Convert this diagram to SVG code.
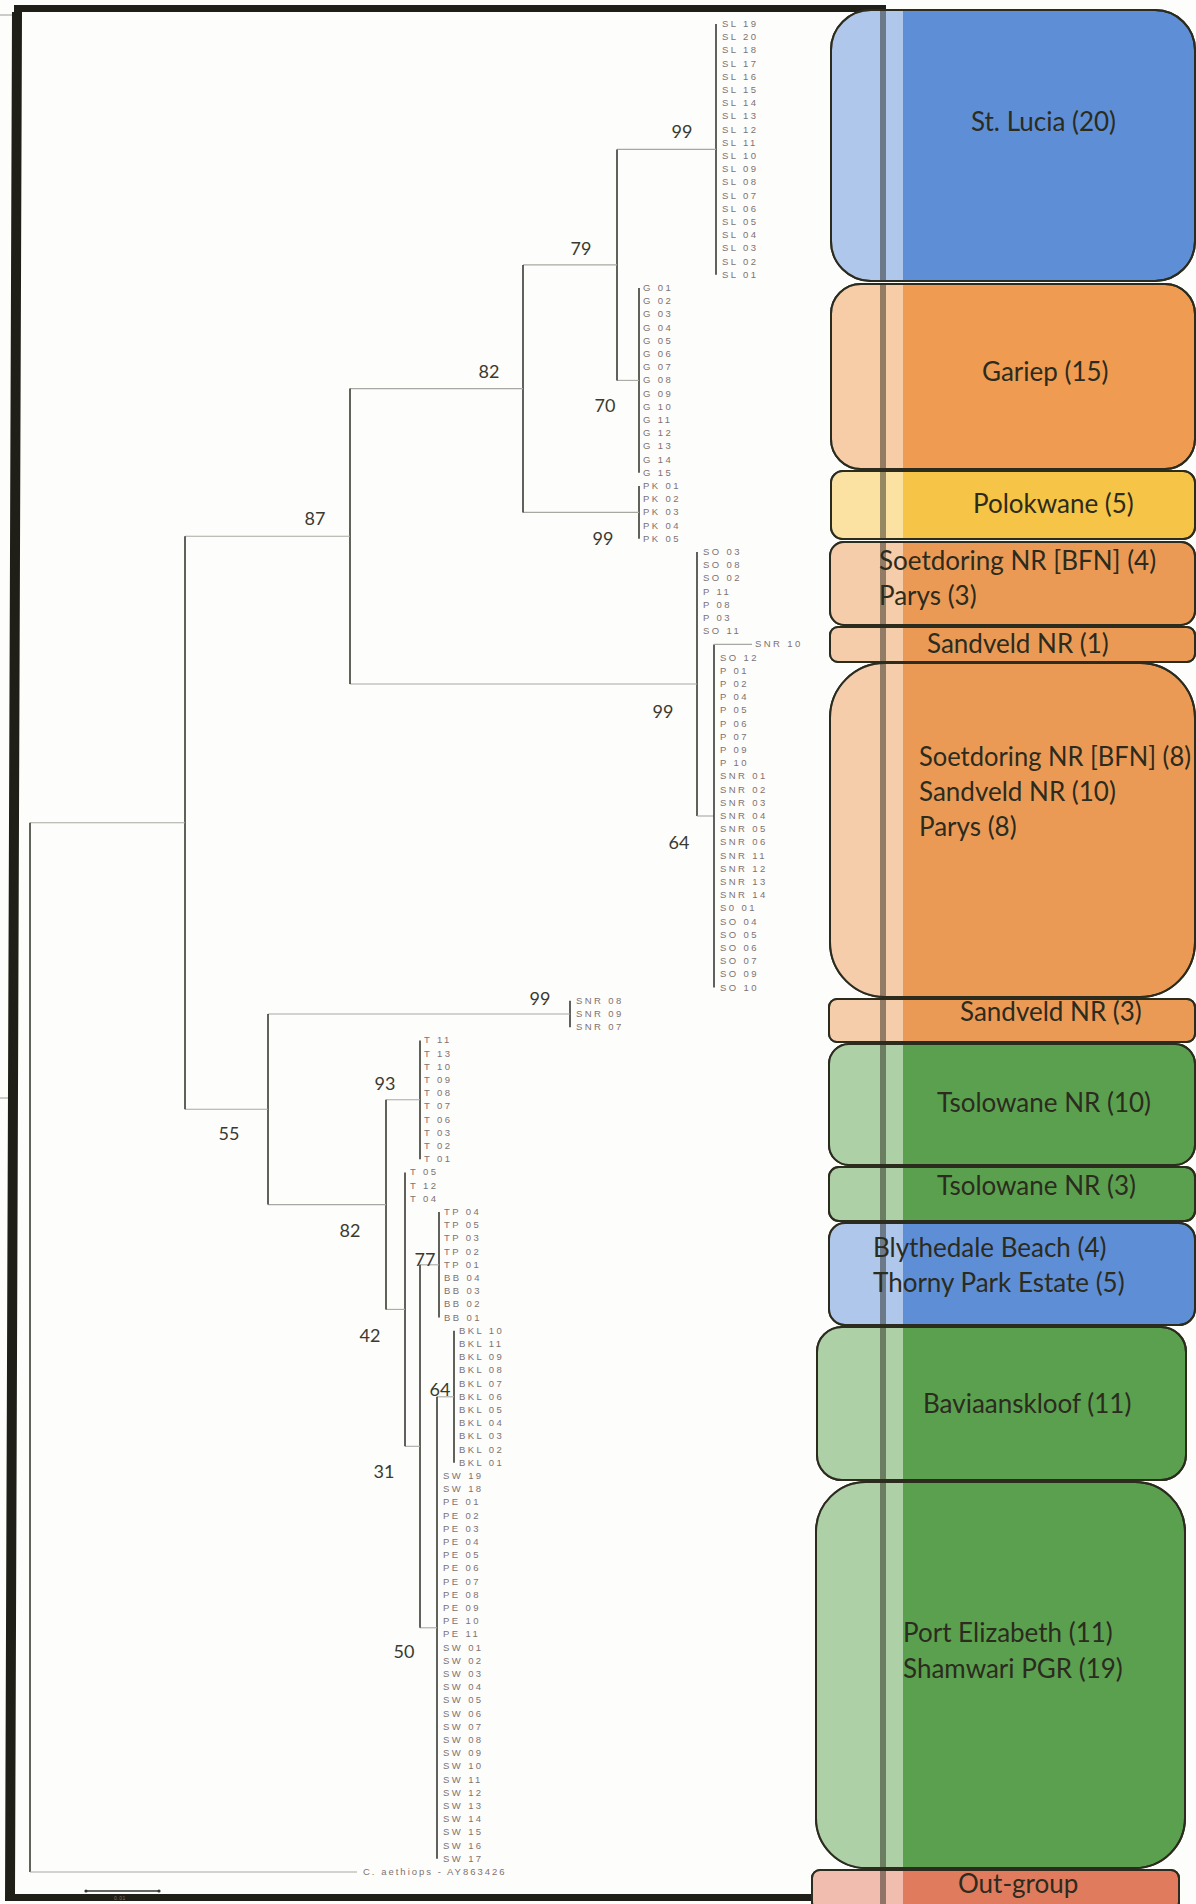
<svg xmlns="http://www.w3.org/2000/svg" width="1196" height="1904" viewBox="0 0 1196 1904">
<style>
.v{stroke:#3a3a34;stroke-width:1.6;fill:none}
.h{stroke:#a8a8a2;stroke-width:1.1;fill:none}
.lf{font-family:"Liberation Sans",Arial,sans-serif;font-size:9.5px;letter-spacing:2.4px;fill:#7d7272;white-space:pre}
.bs{font-family:Lato,"Open Sans",sans-serif;font-size:18px;fill:#3a3a30;text-anchor:middle}
.bx{stroke:#2b2b1e;stroke-width:2}
.bt{font-family:Lato,"Open Sans",sans-serif;font-size:26px;fill:#2b2b1e}
.blue{fill:#5e8fd6}.org{fill:#eb9a56}.yel{fill:#f6c446}.grn{fill:#5aa04f}.red{fill:#e07b5e}
</style>
<defs>
<clipPath id="boxclip">
<rect x="831" y="10" width="364" height="271" rx="40"/>
<rect x="831" y="284" width="364" height="185" rx="30"/>
<rect x="831" y="471" width="364" height="68" rx="12"/>
<rect x="830" y="542" width="365" height="83" rx="14"/>
<rect x="830" y="627" width="365" height="35" rx="8"/>
<rect x="830" y="663" width="365" height="334" rx="55"/>
<rect x="829" y="999" width="366" height="43" rx="8"/>
<rect x="829" y="1044" width="366" height="121" rx="20"/>
<rect x="829" y="1167" width="366" height="54" rx="10"/>
<rect x="829" y="1223" width="366" height="102" rx="16"/>
<rect x="817" y="1327" width="369" height="153" rx="25"/>
<rect x="816" y="1482" width="369" height="386" rx="50"/>
<rect x="812" y="1870" width="367" height="40" rx="8"/>
</clipPath>
</defs>
<rect x="0" y="0" width="1196" height="1904" fill="#fdfdfb"/>

<g id="frame">
<line x1="0" y1="15" x2="16" y2="15" stroke="#9a9a94" stroke-width="1"/>
<line x1="0" y1="1098" x2="12" y2="1098" stroke="#9a9a94" stroke-width="1"/>
<polygon points="14,5 886,5 886,12 22,12 15,1894 830,1894 830,1901 5,1901 12,12 14,12" fill="#1f1f18"/>
</g>

<g id="connectors">
<line class="v" x1="716" y1="24" x2="716" y2="274.8"/>
<line class="h" x1="617" y1="149.4" x2="716" y2="149.4"/>
<line class="v" x1="639" y1="288" x2="639" y2="472.8"/>
<line class="h" x1="617" y1="380.4" x2="639" y2="380.4"/>
<line class="v" x1="617" y1="149.4" x2="617" y2="380.4"/>
<line class="h" x1="523" y1="264.9" x2="617" y2="264.9"/>
<line class="v" x1="639" y1="486" x2="639" y2="538.8"/>
<line class="h" x1="523" y1="512.4" x2="639" y2="512.4"/>
<line class="v" x1="523" y1="264.9" x2="523" y2="512.4"/>
<line class="h" x1="350" y1="388.6" x2="523" y2="388.6"/>
<line class="v" x1="697" y1="552" x2="697" y2="816"/>
<line class="h" x1="697" y1="816" x2="714" y2="816"/>
<line class="v" x1="714" y1="644.4" x2="714" y2="987.6"/>
<line class="h" x1="714" y1="644.4" x2="752" y2="644.4"/>
<line class="h" x1="350" y1="684" x2="697" y2="684"/>
<line class="v" x1="350" y1="388.6" x2="350" y2="684"/>
<line class="h" x1="185" y1="536.3" x2="350" y2="536.3"/>
<line class="v" x1="570" y1="1000.8" x2="570" y2="1027.2"/>
<line class="h" x1="268" y1="1014" x2="570" y2="1014"/>
<line class="v" x1="420" y1="1040.4" x2="420" y2="1159.2"/>
<line class="h" x1="386" y1="1099.8" x2="420" y2="1099.8"/>
<line class="v" x1="439" y1="1212" x2="439" y2="1317.6"/>
<line class="h" x1="420" y1="1264.8" x2="439" y2="1264.8"/>
<line class="v" x1="454" y1="1330.8" x2="454" y2="1462.8"/>
<line class="h" x1="437" y1="1396.8" x2="454" y2="1396.8"/>
<line class="v" x1="437" y1="1396.8" x2="437" y2="1858.8"/>
<line class="h" x1="420" y1="1627.8" x2="437" y2="1627.8"/>
<line class="v" x1="420" y1="1264.8" x2="420" y2="1627.8"/>
<line class="h" x1="405" y1="1446.3" x2="420" y2="1446.3"/>
<line class="v" x1="405" y1="1172.4" x2="405" y2="1446.3"/>
<line class="h" x1="386" y1="1309.4" x2="405" y2="1309.4"/>
<line class="v" x1="386" y1="1099.8" x2="386" y2="1309.4"/>
<line class="h" x1="268" y1="1204.6" x2="386" y2="1204.6"/>
<line class="v" x1="268" y1="1014" x2="268" y2="1204.6"/>
<line class="h" x1="185" y1="1109.3" x2="268" y2="1109.3"/>
<line class="v" x1="185" y1="536.3" x2="185" y2="1109.3"/>
<line class="h" x1="30" y1="822.8" x2="185" y2="822.8"/>
<line class="v" x1="30" y1="822.8" x2="30" y2="1872"/>
<line class="h" x1="30" y1="1872" x2="357" y2="1872"/>
<line x1="86" y1="1891" x2="159" y2="1891" stroke="#333" stroke-width="1.4"/>
<circle cx="86" cy="1891" r="1.6" fill="#333"/>
<circle cx="159" cy="1891" r="1.6" fill="#333"/>
</g>

<g id="bootstrap">
<text class="bs" x="682" y="138">99</text>
<text class="bs" x="581" y="255">79</text>
<text class="bs" x="489" y="378">82</text>
<text class="bs" x="605" y="412">70</text>
<text class="bs" x="603" y="545">99</text>
<text class="bs" x="315" y="525">87</text>
<text class="bs" x="663" y="718">99</text>
<text class="bs" x="679" y="849">64</text>
<text class="bs" x="540" y="1005">99</text>
<text class="bs" x="385" y="1090">93</text>
<text class="bs" x="229" y="1140">55</text>
<text class="bs" x="350" y="1237">82</text>
<text class="bs" x="425" y="1266">77</text>
<text class="bs" x="370" y="1342">42</text>
<text class="bs" x="440" y="1396">64</text>
<text class="bs" x="384" y="1478">31</text>
<text class="bs" x="404" y="1658">50</text>
</g>

<g id="leaves-SL" class="lf">
<text x="722" y="27">SL  19</text><text x="722" y="40.2">SL  20</text><text x="722" y="53.4">SL  18</text><text x="722" y="66.6">SL  17</text><text x="722" y="79.8">SL  16</text><text x="722" y="93">SL  15</text><text x="722" y="106.2">SL  14</text><text x="722" y="119.4">SL  13</text><text x="722" y="132.6">SL  12</text><text x="722" y="145.8">SL  11</text><text x="722" y="159">SL  10</text><text x="722" y="172.2">SL  09</text><text x="722" y="185.4">SL  08</text><text x="722" y="198.6">SL  07</text><text x="722" y="211.8">SL  06</text><text x="722" y="225">SL  05</text><text x="722" y="238.2">SL  04</text><text x="722" y="251.4">SL  03</text><text x="722" y="264.6">SL  02</text><text x="722" y="277.8">SL  01</text>
</g>
<g id="leaves-G" class="lf">
<text x="643" y="291">G 01</text><text x="643" y="304.2">G 02</text><text x="643" y="317.4">G 03</text><text x="643" y="330.6">G 04</text><text x="643" y="343.8">G 05</text><text x="643" y="357">G 06</text><text x="643" y="370.2">G 07</text><text x="643" y="383.4">G 08</text><text x="643" y="396.6">G 09</text><text x="643" y="409.8">G 10</text><text x="643" y="423">G 11</text><text x="643" y="436.2">G 12</text><text x="643" y="449.4">G 13</text><text x="643" y="462.6">G 14</text><text x="643" y="475.8">G 15</text>
</g>
<g id="leaves-PK" class="lf">
<text x="643" y="489">PK  01</text><text x="643" y="502.2">PK  02</text><text x="643" y="515.4">PK  03</text><text x="643" y="528.6">PK  04</text><text x="643" y="541.8">PK  05</text>
</g>
<g id="leaves-SO" class="lf">
<text x="703" y="555">SO 03</text><text x="703" y="568.2">SO 08</text><text x="703" y="581.4">SO 02</text><text x="703" y="594.6">P 11</text><text x="703" y="607.8">P 08</text><text x="703" y="621">P 03</text><text x="703" y="634.2">SO 11</text>
<text x="755" y="647.4">SNR  10</text>
<text x="720" y="660.6">SO 12</text><text x="720" y="673.8">P 01</text><text x="720" y="687">P 02</text><text x="720" y="700.2">P 04</text><text x="720" y="713.4">P 05</text><text x="720" y="726.6">P 06</text><text x="720" y="739.8">P 07</text><text x="720" y="753">P 09</text><text x="720" y="766.2">P 10</text><text x="720" y="779.4">SNR 01</text><text x="720" y="792.6">SNR 02</text><text x="720" y="805.8">SNR 03</text><text x="720" y="819">SNR 04</text><text x="720" y="832.2">SNR 05</text><text x="720" y="845.4">SNR 06</text><text x="720" y="858.6">SNR 11</text><text x="720" y="871.8">SNR 12</text><text x="720" y="885">SNR 13</text><text x="720" y="898.2">SNR 14</text><text x="720" y="911.4">S0 01</text><text x="720" y="924.6">SO 04</text><text x="720" y="937.8">SO 05</text><text x="720" y="951">SO 06</text><text x="720" y="964.2">SO 07</text><text x="720" y="977.4">SO 09</text><text x="720" y="990.6">SO 10</text>
</g>
<g id="leaves-SNR" class="lf">
<text x="576" y="1003.8">SNR 08</text><text x="576" y="1017">SNR 09</text><text x="576" y="1030.2">SNR 07</text>
</g>
<g id="leaves-T" class="lf">
<text x="424" y="1043.4">T 11</text><text x="424" y="1056.6">T 13</text><text x="424" y="1069.8">T 10</text><text x="424" y="1083">T 09</text><text x="424" y="1096.2">T 08</text><text x="424" y="1109.4">T 07</text><text x="424" y="1122.6">T 06</text><text x="424" y="1135.8">T 03</text><text x="424" y="1149">T 02</text><text x="424" y="1162.2">T 01</text>
<text x="410" y="1175.4">T 05</text><text x="410" y="1188.6">T 12</text><text x="410" y="1201.8">T 04</text>
</g>
<g id="leaves-TPBB" class="lf">
<text x="444" y="1215">TP  04</text><text x="444" y="1228.2">TP  05</text><text x="444" y="1241.4">TP  03</text><text x="444" y="1254.6">TP  02</text><text x="444" y="1267.8">TP  01</text><text x="444" y="1281">BB  04</text><text x="444" y="1294.2">BB  03</text><text x="444" y="1307.4">BB  02</text><text x="444" y="1320.6">BB  01</text>
</g>
<g id="leaves-BKL" class="lf">
<text x="459" y="1333.8">BKL  10</text><text x="459" y="1347">BKL  11</text><text x="459" y="1360.2">BKL  09</text><text x="459" y="1373.4">BKL  08</text><text x="459" y="1386.6">BKL  07</text><text x="459" y="1399.8">BKL  06</text><text x="459" y="1413">BKL  05</text><text x="459" y="1426.2">BKL  04</text><text x="459" y="1439.4">BKL  03</text><text x="459" y="1452.6">BKL  02</text><text x="459" y="1465.8">BKL  01</text>
</g>
<g id="leaves-PESW" class="lf">
<text x="443" y="1479">SW  19</text><text x="443" y="1492.2">SW  18</text>
<text x="443" y="1505.4">PE  01</text><text x="443" y="1518.6">PE  02</text><text x="443" y="1531.8">PE  03</text><text x="443" y="1545">PE  04</text><text x="443" y="1558.2">PE  05</text><text x="443" y="1571.4">PE  06</text><text x="443" y="1584.6">PE  07</text><text x="443" y="1597.8">PE  08</text><text x="443" y="1611">PE  09</text><text x="443" y="1624.2">PE  10</text><text x="443" y="1637.4">PE  11</text>
<text x="443" y="1650.6">SW  01</text><text x="443" y="1663.8">SW  02</text><text x="443" y="1677">SW  03</text><text x="443" y="1690.2">SW  04</text><text x="443" y="1703.4">SW  05</text><text x="443" y="1716.6">SW  06</text><text x="443" y="1729.8">SW  07</text><text x="443" y="1743">SW  08</text><text x="443" y="1756.2">SW  09</text><text x="443" y="1769.4">SW  10</text><text x="443" y="1782.6">SW  11</text><text x="443" y="1795.8">SW  12</text><text x="443" y="1809">SW  13</text><text x="443" y="1822.2">SW  14</text><text x="443" y="1835.4">SW  15</text><text x="443" y="1848.6">SW  16</text><text x="443" y="1861.8">SW  17</text>
</g>
<g id="leaf-outgroup" class="lf">
<text x="363" y="1875" style="letter-spacing:2px">C.  aethiops  -  AY863426</text>
<text x="114" y="1900" style="font-size:5px;letter-spacing:0.5px">0.01</text>
</g>

<g id="boxes">
<rect id="box-stlucia" class="bx blue" x="831" y="10" width="364" height="271" rx="40"/>
<rect id="box-gariep" class="bx org" x="831" y="284" width="364" height="185" rx="30" style="fill:#ef9b51"/>
<rect id="box-polokwane" class="bx yel" x="831" y="471" width="364" height="68" rx="12"/>
<rect id="box-soetdoring4" class="bx org" x="830" y="542" width="365" height="83" rx="14"/>
<rect id="box-sandveld1" class="bx org" x="830" y="627" width="365" height="35" rx="8"/>
<rect id="box-soetdoring8" class="bx org" x="830" y="663" width="365" height="334" rx="55"/>
<rect id="box-sandveld3" class="bx org" x="829" y="999" width="366" height="43" rx="8"/>
<rect id="box-tsolowane10" class="bx grn" x="829" y="1044" width="366" height="121" rx="20"/>
<rect id="box-tsolowane3" class="bx grn" x="829" y="1167" width="366" height="54" rx="10"/>
<rect id="box-blythedale" class="bx blue" x="829" y="1223" width="366" height="102" rx="16"/>
<rect id="box-baviaanskloof" class="bx grn" x="817" y="1327" width="369" height="153" rx="25"/>
<rect id="box-pe" class="bx grn" x="816" y="1482" width="369" height="386" rx="50"/>
<rect id="box-outgroup" class="bx red" x="812" y="1870" width="367" height="40" rx="8"/>
<g clip-path="url(#boxclip)">
<rect x="800" y="0" width="103" height="1904" fill="#ffffff" opacity="0.5"/>
<rect x="880" y="0" width="6" height="1904" fill="#1a1a10" opacity="0.45"/>
</g>
<g fill="none" stroke="#2b2b1e" stroke-width="2">
<rect x="831" y="10" width="364" height="271" rx="40"/>
<rect x="831" y="284" width="364" height="185" rx="30"/>
<rect x="831" y="471" width="364" height="68" rx="12"/>
<rect x="830" y="542" width="365" height="83" rx="14"/>
<rect x="830" y="627" width="365" height="35" rx="8"/>
<rect x="830" y="663" width="365" height="334" rx="55"/>
<rect x="829" y="999" width="366" height="43" rx="8"/>
<rect x="829" y="1044" width="366" height="121" rx="20"/>
<rect x="829" y="1167" width="366" height="54" rx="10"/>
<rect x="829" y="1223" width="366" height="102" rx="16"/>
<rect x="817" y="1327" width="369" height="153" rx="25"/>
<rect x="816" y="1482" width="369" height="386" rx="50"/>
<rect x="812" y="1870" width="367" height="40" rx="8"/>
</g>
<g class="bt">
<text x="971" y="131">St. Lucia (20)</text>
<text x="982" y="381">Gariep (15)</text>
<text x="973" y="513">Polokwane (5)</text>
<text x="879" y="570">Soetdoring NR [BFN] (4)</text>
<text x="879" y="605">Parys (3)</text>
<text x="927" y="653">Sandveld NR (1)</text>
<text x="919" y="766" textLength="272" lengthAdjust="spacingAndGlyphs">Soetdoring NR [BFN] (8)</text>
<text x="919" y="801">Sandveld NR (10)</text>
<text x="919" y="836">Parys (8)</text>
<text x="960" y="1021">Sandveld NR (3)</text>
<text x="937" y="1112">Tsolowane NR (10)</text>
<text x="937" y="1195">Tsolowane NR (3)</text>
<text x="873" y="1257">Blythedale Beach (4)</text>
<text x="873" y="1292">Thorny Park Estate (5)</text>
<text x="923" y="1413">Baviaanskloof (11)</text>
<text x="903" y="1642">Port Elizabeth (11)</text>
<text x="903" y="1678">Shamwari PGR (19)</text>
<text x="958" y="1893">Out-group</text>
</g>
</g>
</svg>
